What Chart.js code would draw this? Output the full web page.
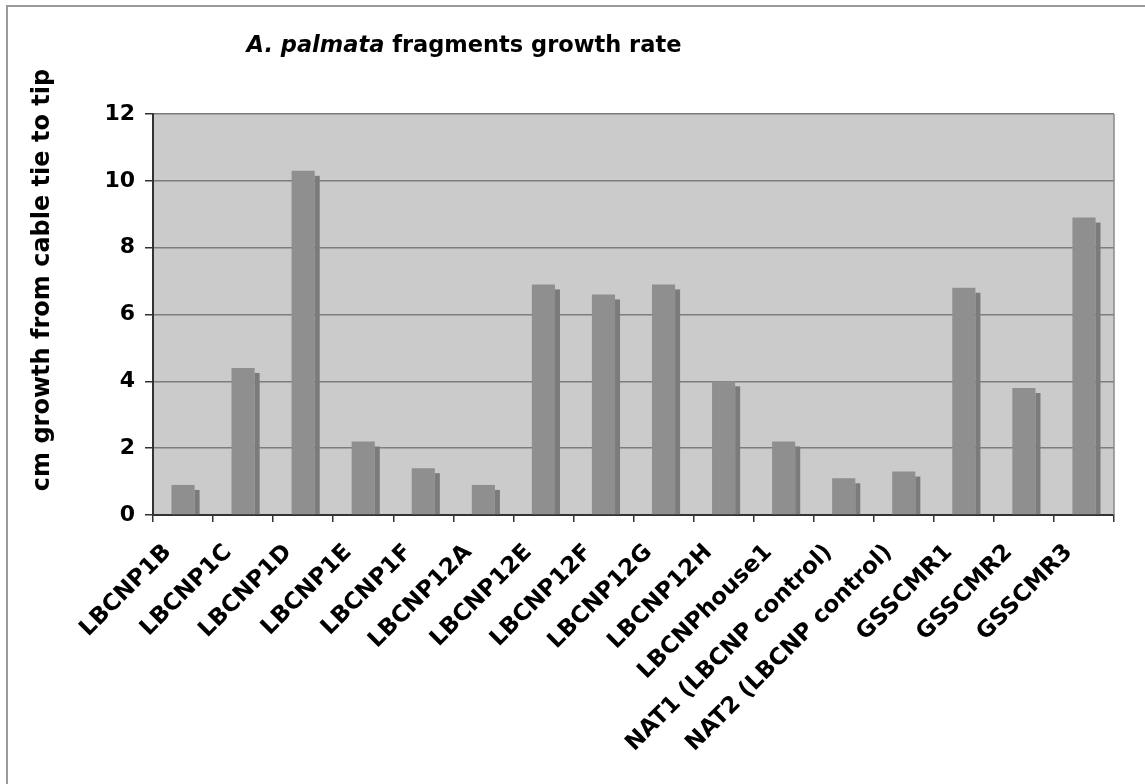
<!DOCTYPE html>
<html>
<head>
<meta charset="utf-8">
<script src="https://cdn.jsdelivr.net/npm/chart.js@4.4.1/dist/chart.umd.min.js"></script>
<style>
html,body{margin:0;padding:0;background:#fff;}
#wrap{width:1145px;height:784px;position:relative;}
</style>
</head>
<body>
<div id="wrap"><canvas id="c" width="1145" height="784"></canvas></div>
<script>
const categories = ["LBCNP1B","LBCNP1C","LBCNP1D","LBCNP1E","LBCNP1F","LBCNP12A","LBCNP12E","LBCNP12F","LBCNP12G","LBCNP12H","LBCNPhouse1","NAT1 (LBCNP control)","NAT2 (LBCNP control)","GSSCMR1","GSSCMR2","GSSCMR3"];
const growth = [0.9, 4.4, 10.3, 2.2, 1.4, 0.9, 6.9, 6.6, 6.9, 4.0, 2.2, 1.1, 1.3, 6.8, 3.8, 8.9];
const yTicks = [0, 2, 4, 6, 8, 10, 12];
const titleItalic = "A. palmata";
const titleRest = " fragments growth rate";
const yTitle = "cm growth from cable tie to tip";

const FONT = "'DejaVu Sans', Verdana, sans-serif";

const decor = {
  id: 'decor',
  beforeDraw(chart) {
    const ctx = chart.ctx, a = chart.chartArea;
    ctx.save();
    ctx.fillStyle = '#ffffff';
    ctx.fillRect(0, 0, chart.width, chart.height);
    ctx.strokeStyle = '#9a9a9a';
    ctx.lineWidth = 2;
    ctx.beginPath();
    ctx.moveTo(7, chart.height + 2);
    ctx.lineTo(7, 6);
    ctx.lineTo(chart.width + 2, 6);
    ctx.stroke();
    ctx.fillStyle = '#cbcbcb';
    ctx.fillRect(a.left, a.top, a.right - a.left, a.bottom - a.top);
    ctx.restore();
  },
  afterDatasetsDraw(chart) {
    const ctx = chart.ctx, a = chart.chartArea;
    const meta = chart.getDatasetMeta(0);
    ctx.save();
    meta.data.forEach(bar => {
      const p = bar.getProps(['x', 'y', 'base', 'width'], true);
      ctx.fillStyle = '#7b7b7b';
      const sx = p.x + p.width / 2;
      const top = Math.min(p.y + 5, p.base);
      ctx.fillRect(sx, top, 5, p.base - top);
    });
    ctx.strokeStyle = '#8a8a8a';
    ctx.lineWidth = 1.5;
    ctx.beginPath();
    ctx.moveTo(a.right, a.top);
    ctx.lineTo(a.right, a.bottom);
    ctx.stroke();
    ctx.restore();
  },
  afterDraw(chart) {
    const ctx = chart.ctx;
    ctx.save();
    ctx.fillStyle = '#000';
    ctx.textBaseline = 'alphabetic';
    ctx.textAlign = 'left';
    const f1 = "italic bold 22.5px " + FONT;
    const f2 = "bold 22.5px " + FONT;
    ctx.font = f1;
    const w1 = ctx.measureText(titleItalic).width;
    ctx.font = f2;
    const w2 = ctx.measureText(titleRest).width;
    const x0 = 464 - (w1 + w2) / 2;
    ctx.font = f1;
    ctx.fillText(titleItalic, x0, 52);
    ctx.font = f2;
    ctx.fillText(titleRest, x0 + w1, 52);
    ctx.translate(43, 280);
    ctx.rotate(-Math.PI / 2);
    ctx.textAlign = 'center';
    ctx.textBaseline = 'middle';
    ctx.font = "bold 24px " + FONT;
    ctx.fillText(yTitle, 0, 0);
    ctx.restore();
  }
};

new Chart(document.getElementById('c'), {
  type: 'bar',
  data: {
    labels: categories,
    datasets: [{
      data: growth,
      backgroundColor: '#8f8f8f',
      borderWidth: 0,
      categoryPercentage: 1.0,
      barPercentage: 0.385
    }]
  },
  options: {
    responsive: false,
    animation: false,
    devicePixelRatio: 1,
    layout: { padding: { left: 0, right: 31, top: 114, bottom: 0 } },
    plugins: { legend: { display: false }, tooltip: { enabled: false }, title: { display: false } },
    scales: {
      x: {
        afterFit(s) { s.height = 269; },
        grid: { offset: true, drawOnChartArea: false, drawTicks: true, tickLength: 7, tickColor: '#333', lineWidth: 1.5 },
        border: { color: '#333', width: 2 },
        ticks: {
          autoSkip: false, maxRotation: 45, minRotation: 45, padding: 17, labelOffset: -15,
          color: '#000', font: { family: FONT, size: 23, weight: 'bold' }
        }
      },
      y: {
        min: 0, max: 12,
        afterFit(s) { s.width = 153; },
        afterBuildTicks(s) { s.ticks = yTicks.map(v => ({ value: v })); },
        grid: { color: '#7d7d7d', lineWidth: 1.5, tickLength: 8, tickColor: '#333' },
        border: { color: '#333', width: 2 },
        ticks: { padding: 10, color: '#000', font: { family: FONT, size: 22, weight: 'bold' } }
      }
    }
  },
  plugins: [decor]
});
</script>
</body>
</html>
